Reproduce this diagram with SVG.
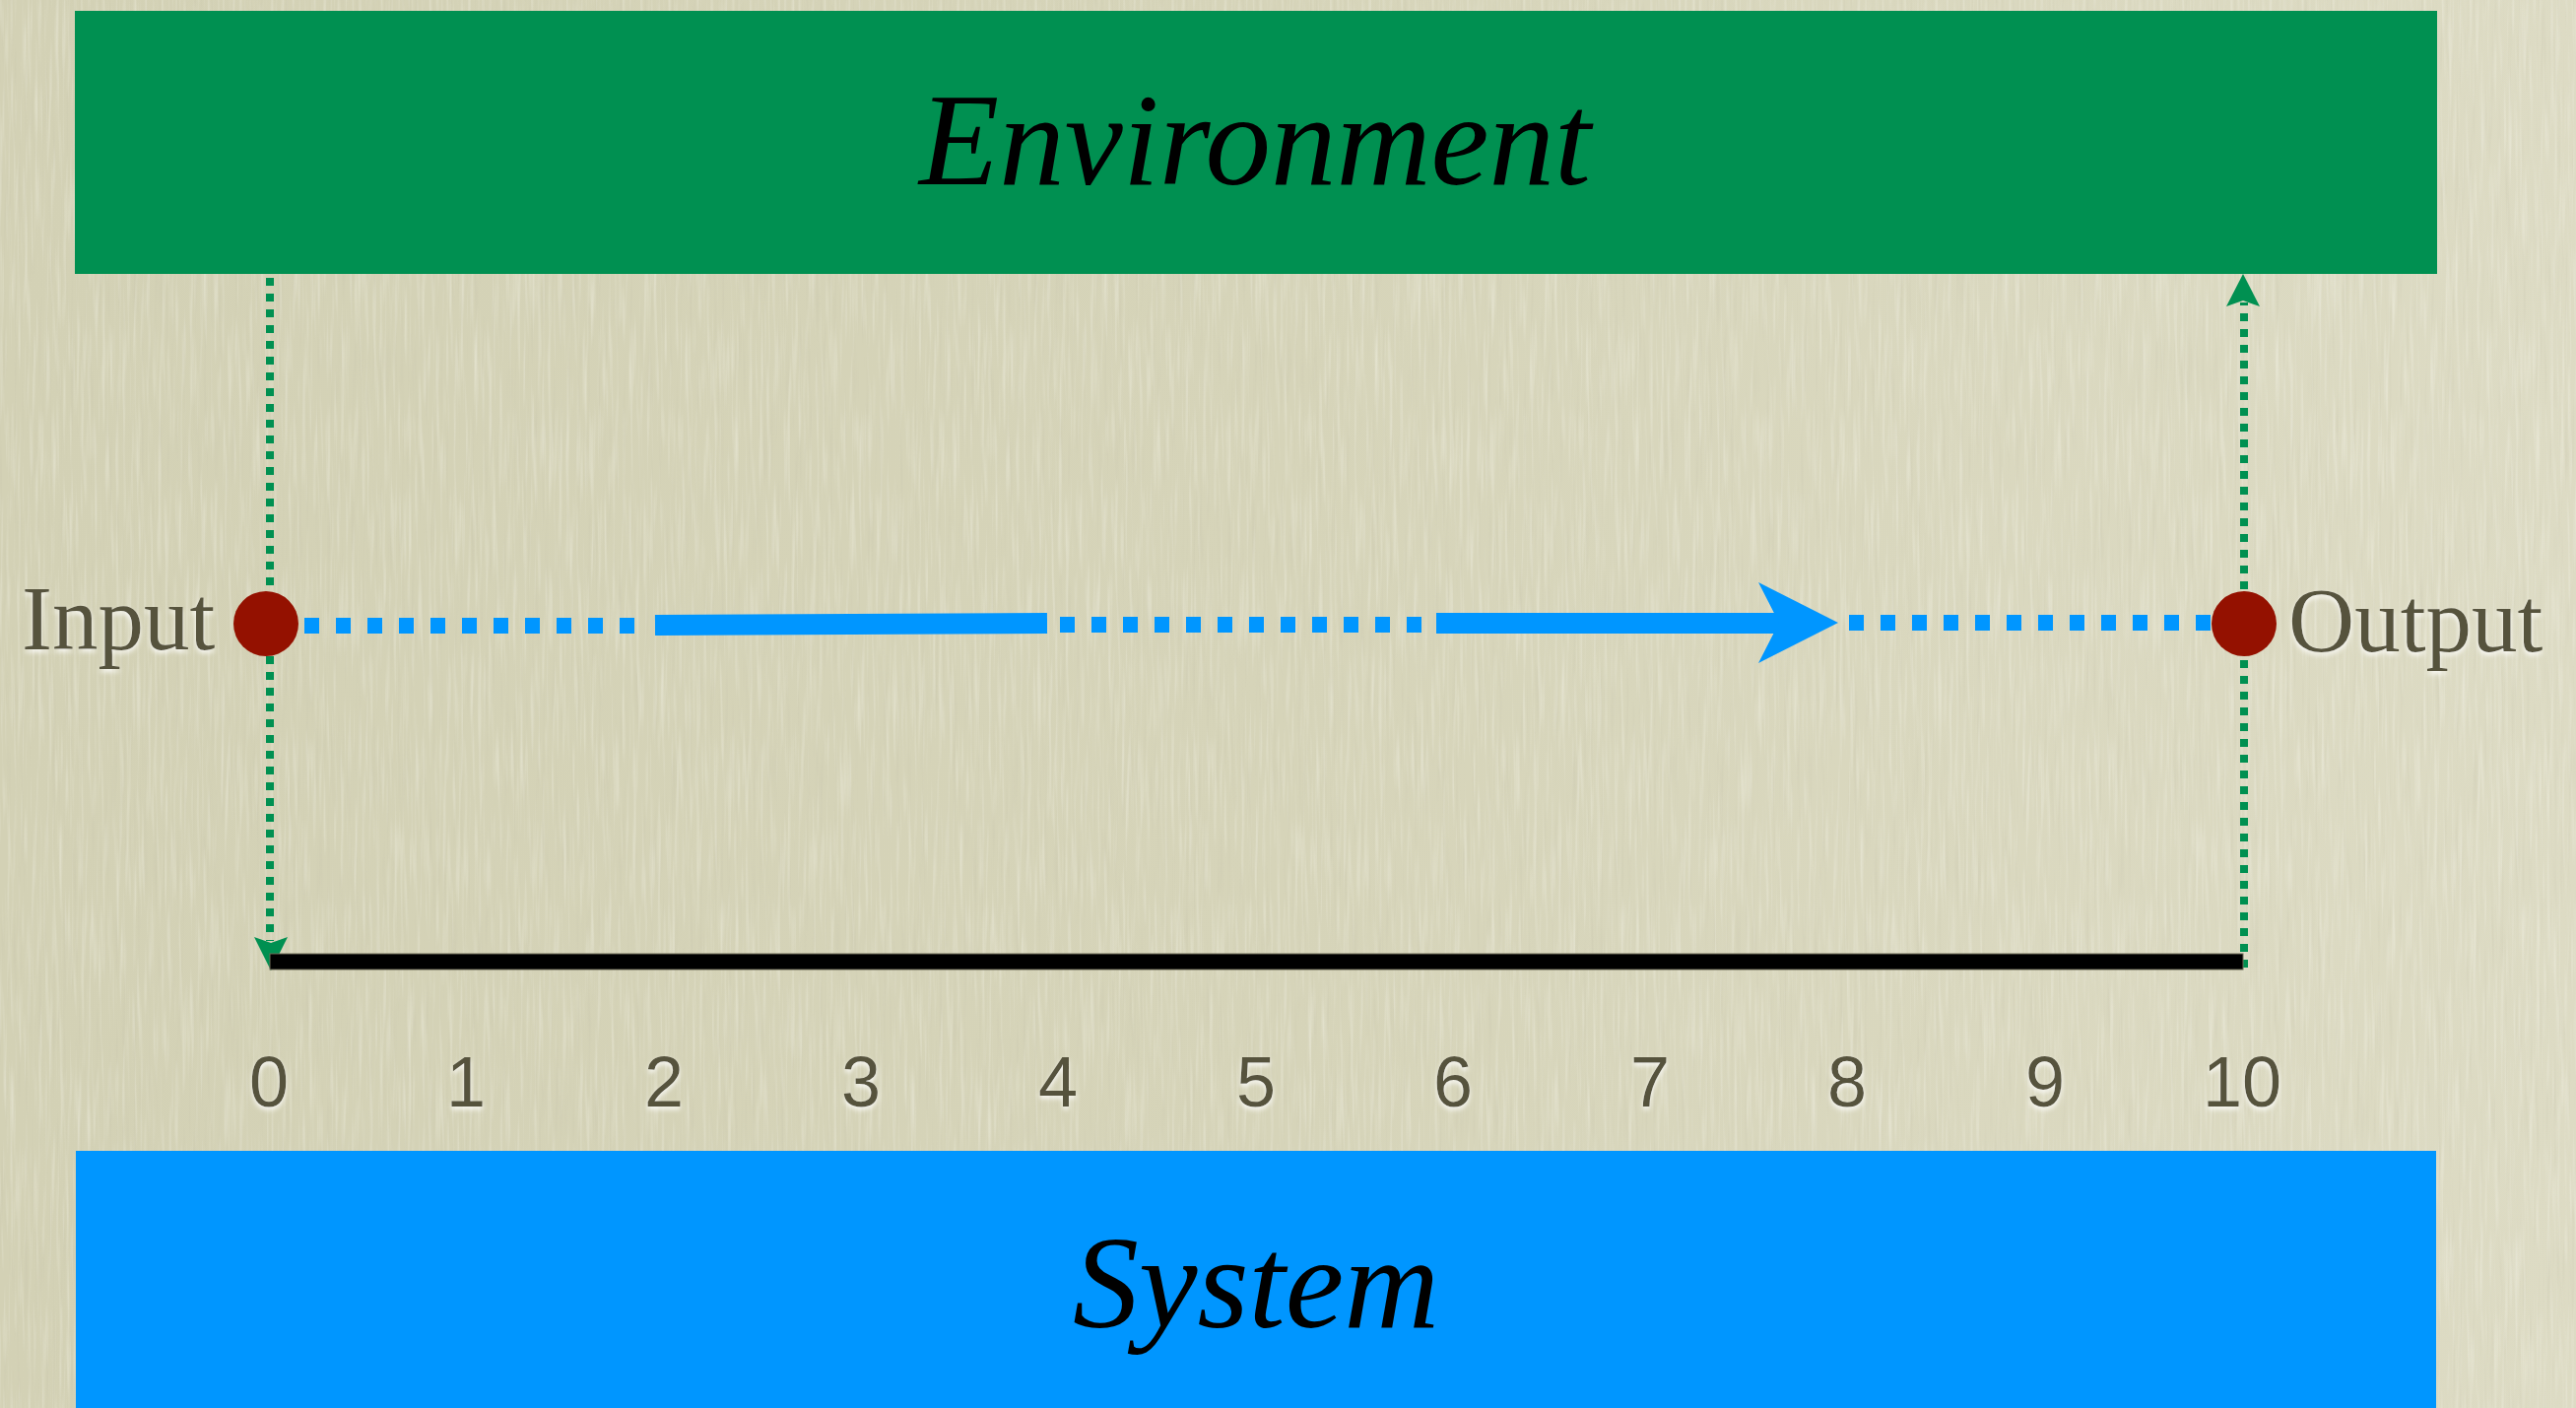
<svg xmlns="http://www.w3.org/2000/svg" width="2615" height="1429" viewBox="0 0 2615 1429">
<style>
.lbl{font-family:"Liberation Serif","Times New Roman",serif;font-size:93px;fill:#57533d;filter:url(#glow)}
.num{font-family:"Liberation Sans",Arial,sans-serif;font-size:72px;fill:#57533d;text-anchor:middle;filter:url(#glow)}
.title{font-family:"Liberation Serif","Times New Roman",serif;font-style:italic;fill:#000;text-anchor:middle}
.gdot{stroke:#009051;stroke-width:8;stroke-dasharray:8 8;fill:none}
.bdot{stroke:#0096ff;stroke-width:16;stroke-dasharray:15 17;fill:none}
.bsolid{stroke:#0096ff;stroke-width:21;fill:none}
.dot{fill:#941100}
</style>
<defs>
<linearGradient id="bg" x1="0" y1="0" x2="1" y2="0">
<stop offset="0" stop-color="#d3d1b5"/>
<stop offset="0.5" stop-color="#d6d4b9"/>
<stop offset="1" stop-color="#dddbc4"/>
</linearGradient>
<filter id="paper" x="0" y="0" width="100%" height="100%">
<feTurbulence type="fractalNoise" baseFrequency="0.28 0.012" numOctaves="2" seed="7" result="n"/>
<feColorMatrix in="n" type="matrix" values="0 0 0 0 1  0 0 0 0 1  0 0 0 0 0.95  1.6 0 0 0 -0.78" result="light"/>
<feColorMatrix in="n" type="matrix" values="0 0 0 0 0.55  0 0 0 0 0.53  0 0 0 0 0.4  0 -1.6 0 0 0.72" result="dark"/>
<feMerge><feMergeNode in="dark"/><feMergeNode in="light"/></feMerge>
</filter>
<filter id="glow" x="-20%" y="-20%" width="140%" height="150%">
<feGaussianBlur in="SourceAlpha" stdDeviation="2.5" result="b"/>
<feOffset in="b" dy="3" result="o"/>
<feFlood flood-color="#ffffff" flood-opacity="0.85"/>
<feComposite in2="o" operator="in" result="s"/>
<feMerge><feMergeNode in="s"/><feMergeNode in="SourceGraphic"/></feMerge>
</filter>
</defs>
<rect width="2615" height="1429" fill="url(#bg)"/>
<rect width="2615" height="1429" filter="url(#paper)" opacity="0.45"/>

<g id="environment">
<rect x="76" y="11" width="2398" height="267" fill="#009051"/>
<text class="title" x="1274" y="187" font-size="133">Environment</text>
</g>
<g id="system">
<rect x="77" y="1168" width="2396" height="261" fill="#0096ff"/>
<text class="title" x="1275" y="1347" font-size="134">System</text>
</g>

<g id="connectors">
<line class="gdot" x1="274" y1="282" x2="274" y2="955"/>
<polygon points="275,985 258,951 275,957 292,951" fill="#009051"/>
<line class="gdot" x1="2278" y1="982" x2="2278" y2="307"/>
<polygon points="2277,278 2294,311 2277,305 2260,311" fill="#009051"/>
<rect x="274" y="968" width="2003" height="16" fill="#000" stroke="#6f6d58" stroke-width="1"/>
<line class="bdot" x1="309" y1="635" x2="660" y2="635"/>
<line class="bsolid" x1="665" y1="634.5" x2="1063" y2="632.5"/>
<line class="bdot" x1="1076" y1="634" x2="1450" y2="634"/>
<line class="bsolid" x1="1458" y1="632.5" x2="1812" y2="632.5"/>
<polygon points="1866,632 1785,591 1806,632 1785,673" fill="#0096ff"/>
<line class="bdot" x1="1877" y1="632" x2="2250" y2="632"/>
</g>

<g id="input">
<circle class="dot" cx="270" cy="633" r="33"/>
<text class="lbl" x="22" y="659">Input</text>
</g>
<g id="output">
<circle class="dot" cx="2278" cy="633" r="33"/>
<text class="lbl" x="2323" y="661" font-size="95">Output</text>
</g>

<g id="axis">
<text class="num" x="273" y="1123">0</text>
<text class="num" x="473" y="1123">1</text>
<text class="num" x="674" y="1123">2</text>
<text class="num" x="874" y="1123">3</text>
<text class="num" x="1074" y="1123">4</text>
<text class="num" x="1275" y="1123">5</text>
<text class="num" x="1475" y="1123">6</text>
<text class="num" x="1675" y="1123">7</text>
<text class="num" x="1875" y="1123">8</text>
<text class="num" x="2076" y="1123">9</text>
<text class="num" x="2276" y="1123">10</text>
</g>
</svg>
